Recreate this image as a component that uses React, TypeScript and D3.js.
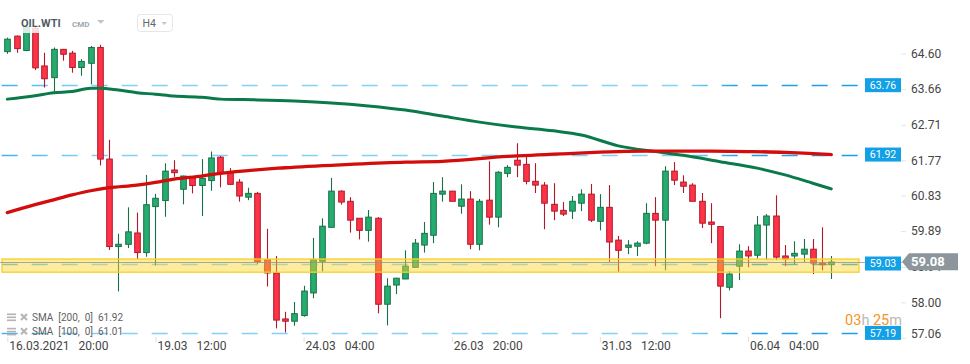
import React, { useEffect, useRef } from 'react';
import * as d3 from 'd3';

// OHLC, 4H candles
const opens = [
    64.65, 65.06, 64.68, 65.27, 64.27, 63.96, 64.71, 64.61, 64.23, 64.34,
    64.76, 61.80, 59.48, 59.54, 59.84, 59.32, 60.54, 60.70, 61.51, 61.00,
    61.33, 61.10, 61.23, 61.85, 61.47, 61.19, 60.79, 60.89, 59.13, 58.78,
    57.56, 57.50, 57.65, 58.25, 59.09, 59.99, 60.95, 60.68, 60.23, 59.91,
    60.23, 57.95, 58.46, 58.62, 58.93, 59.52, 59.78, 60.87, 60.95, 60.55,
    60.74, 59.54, 60.71, 60.26, 61.42, 61.77, 61.66, 61.21, 61.11, 60.60,
    60.44, 60.42, 60.63, 60.87, 60.15, 60.52, 59.65, 59.46, 59.49, 59.57,
    60.36, 60.18, 61.48, 61.19, 61.11, 60.68, 60.13, 60.01, 58.40, 58.96,
    59.36, 59.25, 60.05, 60.29, 59.23, 59.23, 59.28, 59.41, 59.04, 59.00,
];
const highs = [
    65.02, 65.08, 65.36, 65.30, 64.62, 64.76, 64.72, 64.67, 64.45, 64.80,
    64.83, 62.31, 59.82, 60.52, 60.38, 61.38, 60.88, 61.69, 61.77, 61.36,
    61.34, 61.80, 62.00, 61.88, 61.56, 61.27, 61.04, 60.93, 59.95, 59.23,
    57.75, 58.01, 58.44, 59.71, 60.23, 61.30, 60.97, 60.79, 60.23, 60.45,
    60.26, 58.64, 58.65, 59.38, 59.68, 60.13, 61.19, 61.32, 60.95, 61.13,
    60.95, 60.74, 61.74, 61.48, 61.64, 62.22, 61.90, 61.69, 61.19, 61.16,
    60.66, 60.82, 61.00, 61.14, 60.87, 61.11, 59.76, 59.65, 59.62, 60.63,
    60.79, 61.61, 61.72, 61.37, 61.16, 60.90, 60.63, 60.01, 58.83, 59.54,
    59.49, 60.29, 60.34, 60.84, 59.52, 59.62, 59.68, 59.68, 59.99, 59.23,
];
const lows = [
    64.59, 64.62, 64.66, 64.16, 63.70, 63.59, 64.41, 64.09, 64.01, 63.78,
    61.63, 59.39, 58.29, 59.44, 59.15, 59.21, 58.98, 60.27, 61.33, 60.60,
    60.89, 60.29, 60.96, 61.05, 61.11, 60.67, 60.71, 59.01, 58.42, 57.31,
    57.20, 57.38, 57.62, 58.11, 58.82, 59.99, 60.59, 59.85, 59.67, 59.61,
    57.71, 57.39, 58.22, 58.62, 58.93, 59.32, 59.57, 60.67, 60.68, 60.35,
    59.41, 59.38, 60.06, 59.99, 61.32, 61.32, 61.13, 60.90, 59.94, 60.18,
    60.29, 60.21, 60.42, 60.13, 59.91, 59.07, 58.80, 59.28, 59.23, 59.54,
    58.96, 58.85, 61.11, 60.90, 60.68, 59.97, 59.57, 57.58, 58.32, 58.59,
    58.93, 59.16, 59.12, 59.12, 58.96, 59.01, 59.07, 58.75, 58.85, 58.62,
];
const closes = [
    64.98, 64.73, 65.31, 64.22, 63.93, 64.71, 64.58, 64.23, 64.39, 64.76,
    61.80, 59.48, 59.54, 59.87, 59.32, 60.59, 60.76, 61.48, 61.44, 61.35,
    61.10, 61.29, 61.83, 61.44, 61.13, 60.82, 60.89, 59.08, 58.78, 57.53,
    57.50, 57.70, 58.30, 59.13, 60.02, 60.95, 60.66, 60.18, 59.91, 60.26,
    57.95, 58.43, 58.64, 58.96, 59.57, 59.83, 60.89, 60.95, 60.68, 60.74,
    59.54, 60.68, 60.26, 61.45, 61.58, 61.64, 61.21, 61.11, 60.63, 60.42,
    60.34, 60.68, 60.87, 60.18, 60.52, 59.60, 59.38, 59.52, 59.57, 60.36,
    60.18, 61.48, 61.24, 61.08, 60.68, 60.10, 60.07, 58.43, 58.75, 59.36,
    59.23, 60.05, 60.29, 59.20, 59.15, 59.30, 59.41, 59.04, 59.00, 59.07,
];

// moving averages: [candle index, value]
const sma200 = [
    [0, 60.38], [3, 60.59], [5, 60.72], [7, 60.85], [9, 60.96], [11, 61.04],
    [14, 61.11], [16, 61.18], [18, 61.27], [21, 61.35], [23, 61.42], [30, 61.57],
    [37, 61.66], [43, 61.72], [47, 61.74], [54, 61.87], [60, 61.94], [69, 62.01],
    [75, 62.01], [80, 62.0], [84, 61.98], [86, 61.96], [89, 61.92],
];
const sma100 = [
    [0, 63.39], [3, 63.48], [5, 63.56], [7, 63.59], [9, 63.68], [10, 63.68],
    [12, 63.63], [14, 63.56], [16, 63.52], [18, 63.47], [21, 63.44], [23, 63.39],
    [27, 63.37], [31, 63.34], [35, 63.29], [39, 63.21], [43, 63.1], [47, 62.94],
    [51, 62.78], [55, 62.65], [59, 62.55], [62, 62.44], [66, 62.15], [70, 62.0],
    [73, 61.9], [77, 61.73], [81, 61.56], [84, 61.38], [87, 61.16], [89, 61.01],
];

const priceTicks = [64.6, 63.66, 62.71, 61.77, 60.83, 59.89, 58.94, 58.0, 57.06];
const timeTicks = [0, 16, 32, 48, 64, 80];
const timeDates = ['16.03.2021', '19.03', '24.03', '26.03', '31.03', '06.04'];
const timeHours = ['20:00', '12:00', '04:00', '20:00', '12:00', '04:00'];
const levels = [63.76, 61.92, 59.03, 57.19];
const zone = [58.8, 59.15];
const lastPrice = 59.08;
const smaPeriods = [200, 100];
const smaValues = [61.92, 61.01];

const App: React.FC = () => {
    const chartRef = useRef<SVGSVGElement | null>(null);

    useEffect(() => {
        if (!chartRef.current) return;
        const svg = d3.select(chartRef.current);
        svg.selectAll('*').remove();

        const font = 'Roboto, "Liberation Sans", sans-serif';
        const plotRight = 859;

        const x = d3.scaleLinear().domain([0, opens.length - 1]).range([7.3, 831.3]);
        const y = d3.scaleLinear().domain([57.06, 64.6]).range([337.8, 53.5]);

        const defs = svg.append('defs');
        const grad = defs.append('linearGradient')
            .attr('id', 'lvl')
            .attr('gradientUnits', 'userSpaceOnUse')
            .attr('x1', 0).attr('x2', plotRight).attr('y1', 0).attr('y2', 0);
        grad.append('stop').attr('offset', 0).attr('stop-color', '#3fb2f0');
        grad.append('stop').attr('offset', 0.1).attr('stop-color', '#82d0f8');
        grad.append('stop').attr('offset', 0.8).attr('stop-color', '#82d0f8');
        grad.append('stop').attr('offset', 0.86).attr('stop-color', '#1c9fe6');
        grad.append('stop').attr('offset', 1).attr('stop-color', '#1c9fe6');

        svg.append('rect').attr('width', 970).attr('height', 364).attr('fill', '#fff');

        // horizontal levels
        svg.append('g').selectAll('line')
            .data(levels)
            .enter()
            .append('line')
            .attr('x1', 1.7)
            .attr('x2', plotRight - 1)
            .attr('y1', (d) => Math.round(y(d)) + 0.5)
            .attr('y2', (d) => Math.round(y(d)) + 0.5)
            .attr('stroke', 'url(#lvl)')
            .attr('stroke-width', 1.3)
            .attr('stroke-dasharray', '16 14');

        // candles
        const candles = svg.append('g')
            .selectAll('g')
            .data(opens.map((o, i) => ({ i, o, h: highs[i], l: lows[i], c: closes[i] })))
            .enter()
            .append('g');

        candles.append('line')
            .attr('x1', (d) => Math.round(x(d.i)) + 0.5)
            .attr('x2', (d) => Math.round(x(d.i)) + 0.5)
            .attr('y1', (d) => y(d.h))
            .attr('y2', (d) => y(d.l))
            .attr('stroke', (d) => (d.c >= d.o ? '#187048' : '#b0192a'))
            .attr('stroke-width', 1.1);

        candles.append('rect')
            .attr('x', (d) => Math.round(x(d.i)) + 0.5 - 2.8)
            .attr('width', 5.6)
            .attr('y', (d) => y(Math.max(d.o, d.c)))
            .attr('height', (d) => Math.max(1.2, Math.abs(y(d.o) - y(d.c))))
            .attr('fill', (d) => (d.c >= d.o ? '#25ad70' : '#ff3347'))
            .attr('stroke', (d) => (d.c >= d.o ? '#187048' : '#b0192a'))
            .attr('stroke-width', 1);

        // SMA lines
        const line = d3.line<number[]>()
            .x((d) => x(d[0]))
            .y((d) => y(d[1]))
            .curve(d3.curveMonotoneX);

        svg.append('path')
            .attr('d', line(sma100))
            .attr('fill', 'none')
            .attr('stroke', '#0b7a4b')
            .attr('stroke-width', 3)
            .attr('stroke-linecap', 'round');

        svg.append('path')
            .attr('d', line(sma200))
            .attr('fill', 'none')
            .attr('stroke', '#d30c0c')
            .attr('stroke-width', 3.3)
            .attr('stroke-linecap', 'round');

        // support zone
        svg.append('rect')
            .attr('x', 2)
            .attr('width', plotRight - 2)
            .attr('y', y(zone[1]))
            .attr('height', y(zone[0]) - y(zone[1]))
            .attr('fill', 'rgba(251, 212, 40, 0.45)')
            .attr('stroke', '#f6cf2c')
            .attr('stroke-width', 1.3);

        // last price line
        const ly = Math.round(y(lastPrice)) + 0.5;
        svg.append('line')
            .attr('x1', 0).attr('x2', 902)
            .attr('y1', ly).attr('y2', ly)
            .attr('stroke', '#8a9095')
            .attr('stroke-opacity', 0.75)
            .attr('stroke-width', 1);

        // header fade
        svg.append('rect')
            .attr('x', 0).attr('y', 0).attr('width', plotRight).attr('height', 33)
            .attr('fill', '#fff').attr('opacity', 0.82);

        // price axis
        const yAxis = d3.axisRight(y).tickValues(priceTicks).tickSize(5).tickPadding(5)
            .tickFormat((d) => (d as number).toFixed(2));
        const ya = svg.append('g').attr('transform', 'translate(901, 0)').call(yAxis);
        ya.select('.domain').remove();
        ya.selectAll('line').attr('stroke', '#e4e4e4');
        ya.selectAll('text')
            .attr('fill', '#454545')
            .style('font-family', font)
            .style('font-size', '12px');
        ya.selectAll('.tick').filter((d) => (d as number) < 57.5)
            .select('text').attr('y', -4);

        // time axis
        const xAxis = d3.axisBottom(x).tickValues(timeTicks).tickSize(5)
            .tickFormat((d, i) => `${timeDates[i]}   ${timeHours[i]}`);
        const xa = svg.append('g').attr('transform', 'translate(0, 337)').call(xAxis);
        xa.select('.domain').remove();
        xa.selectAll('line').attr('stroke', '#e0e0e0');
        xa.selectAll('text')
            .attr('text-anchor', 'start')
            .attr('x', 1.5)
            .attr('y', 4)
            .attr('fill', '#454545')
            .style('white-space', 'pre')
            .style('font-family', font)
            .style('font-size', '12px');

        // level boxes
        const boxes = svg.append('g').selectAll('g')
            .data(levels)
            .enter()
            .append('g')
            .attr('transform', (d) => `translate(865, ${y(d)})`);
        boxes.append('rect')
            .attr('x', 0).attr('y', -7).attr('width', 36).attr('height', 14)
            .attr('fill', '#12a0e6');
        boxes.append('text')
            .attr('x', 18).attr('y', 0).attr('dy', '0.35em')
            .attr('text-anchor', 'middle')
            .attr('fill', '#fff')
            .style('font-family', font)
            .style('font-size', '10.5px')
            .text((d) => d.toFixed(2));

        // last price tag
        const py = y(lastPrice);
        svg.append('path')
            .attr('d', `M902,${py} L909,${py - 8.5} L958,${py - 8.5} L958,${py + 8.5} L909,${py + 8.5} Z`)
            .attr('fill', '#8c969c');
        svg.append('text')
            .attr('x', 911).attr('y', py).attr('dy', '0.36em')
            .attr('fill', '#fff')
            .style('font-family', font)
            .style('font-size', '13px')
            .style('font-weight', 'bold')
            .text(lastPrice.toFixed(2));

        // countdown
        const timer = svg.append('text')
            .attr('x', 902).attr('y', 324.5)
            .attr('text-anchor', 'end')
            .style('font-family', font)
            .style('font-size', '14.5px')
            .style('white-space', 'pre');
        timer.append('tspan').attr('fill', '#f7931e').text('03');
        timer.append('tspan').attr('fill', '#b8b8b8').text('h ');
        timer.append('tspan').attr('fill', '#f7931e').text('25');
        timer.append('tspan').attr('fill', '#b8b8b8').text('m');

        // legend
        const legend = svg.append('g').selectAll('g')
            .data(smaPeriods)
            .enter()
            .append('g')
            .attr('transform', (d, i) => `translate(0, ${317.5 + i * 14.3})`);
        legend.append('rect').attr('x', 7).attr('y', -4).attr('width', 9).attr('height', 1.6).attr('fill', '#b4b4b4');
        legend.append('rect').attr('x', 7).attr('y', -1).attr('width', 9).attr('height', 1.6).attr('fill', '#b4b4b4');
        legend.append('rect').attr('x', 7).attr('y', 2).attr('width', 9).attr('height', 1.6).attr('fill', '#b4b4b4');
        legend.append('path')
            .attr('d', 'M21,-3.5 L27,2.5 M27,-3.5 L21,2.5')
            .attr('stroke', '#b4b4b4')
            .attr('stroke-width', 2);
        legend.append('text')
            .attr('x', 32).attr('y', 0).attr('dy', '0.35em')
            .attr('fill', '#5f5f5f')
            .style('font-family', font)
            .style('font-size', '10px')
            .style('white-space', 'pre')
            .text((d, i) => `SMA  [${d},  0]  ${smaValues[i].toFixed(2)}`);

        // header
        svg.append('text')
            .attr('x', 21).attr('y', 26.8)
            .attr('fill', '#515b63')
            .style('font-family', font)
            .style('font-size', '11px')
            .style('font-weight', 'bold')
            .text('OIL.WTI');
        svg.append('text')
            .attr('x', 72).attr('y', 26.8)
            .attr('fill', '#9ba7b1')
            .style('font-family', font)
            .style('font-size', '8px')
            .style('font-weight', 'bold')
            .text('CMD');
        svg.append('path').attr('d', 'M97,20 L104.5,20 L100.75,23.8 Z').attr('fill', '#c4c4c4');
        svg.append('rect')
            .attr('x', 137.5).attr('y', 14.5).attr('width', 35).attr('height', 17).attr('rx', 3)
            .attr('fill', '#fff').attr('stroke', '#e6e6e6');
        svg.append('text')
            .attr('x', 142.5).attr('y', 27.2)
            .attr('fill', '#666')
            .style('font-family', font)
            .style('font-size', '10.5px')
            .text('H4');
        svg.append('path').attr('d', 'M161.5,22 L167,22 L164.25,25 Z').attr('fill', '#c8c8c8');
    }, []);

    return (
        <svg
            ref={chartRef}
            width="970"
            height="364"
            style={{ position: 'absolute', left: 0, top: 0, display: 'block' }}
        />
    );
};

export default App;
